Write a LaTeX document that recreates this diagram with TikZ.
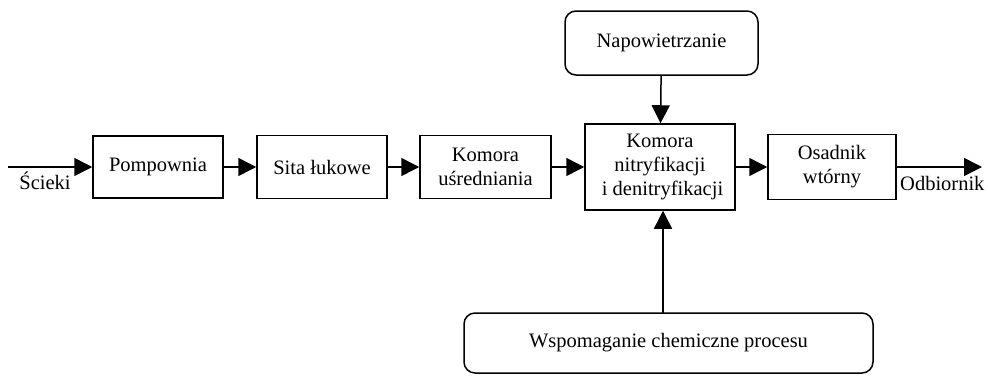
\documentclass[tikz,border=0pt]{standalone}
\usepackage{fontspec}
\setmainfont{Liberation Serif}
\usetikzlibrary{arrows.meta}
\begin{document}
\begin{tikzpicture}[x=1pt,y=-1pt,
  every node/.style={font=\fontsize{20.5}{24}\selectfont},
  box/.style={draw,line width=1.5pt,inner sep=0pt,align=center},
  rbox/.style={box,rounded corners=11pt},
  flow/.style={line width=1.5pt,-{Triangle[length=18pt,width=18pt]}},
  lbl/.style={inner sep=0pt}]
\useasboundingbox (0,0) rectangle (988,375);
\node[box,minimum width=130pt,minimum height=62pt] (pomp) at (158,167) {Pompownia};
\node[box,minimum width=130pt,minimum height=63pt] (sita) at (322,167) {Sita łukowe};
\node[box,minimum width=131pt,minimum height=63pt] (usr) at (485.5,167) {Komora\\uśredniania};
\node[box,minimum width=150pt,minimum height=86pt] (nitr) at (660,167) {Komora\\nitryfikacji\\\ i denitryfikacji};
\node[box,minimum width=128pt,minimum height=65pt] (osad) at (832,167) {Osadnik\\wtórny};
\node[rbox,minimum width=193pt,minimum height=64pt] (nap) at (661.5,43) {Napowietrzanie};
\node[rbox,minimum width=409pt,minimum height=60pt] (wsp) at (668.5,343) {Wspomaganie chemiczne procesu};
\coordinate (in) at (8,167);
\coordinate (out) at (982,167);
\coordinate (wtop) at (663,313);
\node[lbl,anchor=base] (sc) at (45,189) {Ścieki};
\node[lbl,anchor=base west] (odb) at (900,190) {Odbiornik};
\draw[flow] (in) -- (pomp.west);
\draw[flow] (pomp) -- (sita);
\draw[flow] (sita) -- (usr);
\draw[flow] (usr) -- (nitr);
\draw[flow] (nitr) -- (osad);
\draw[flow] (osad.east) -- (out);
\draw[flow] (nap) -- (nitr);
\draw[flow] (wtop) -- (wtop |- nitr.south);
\end{tikzpicture}
\end{document}
